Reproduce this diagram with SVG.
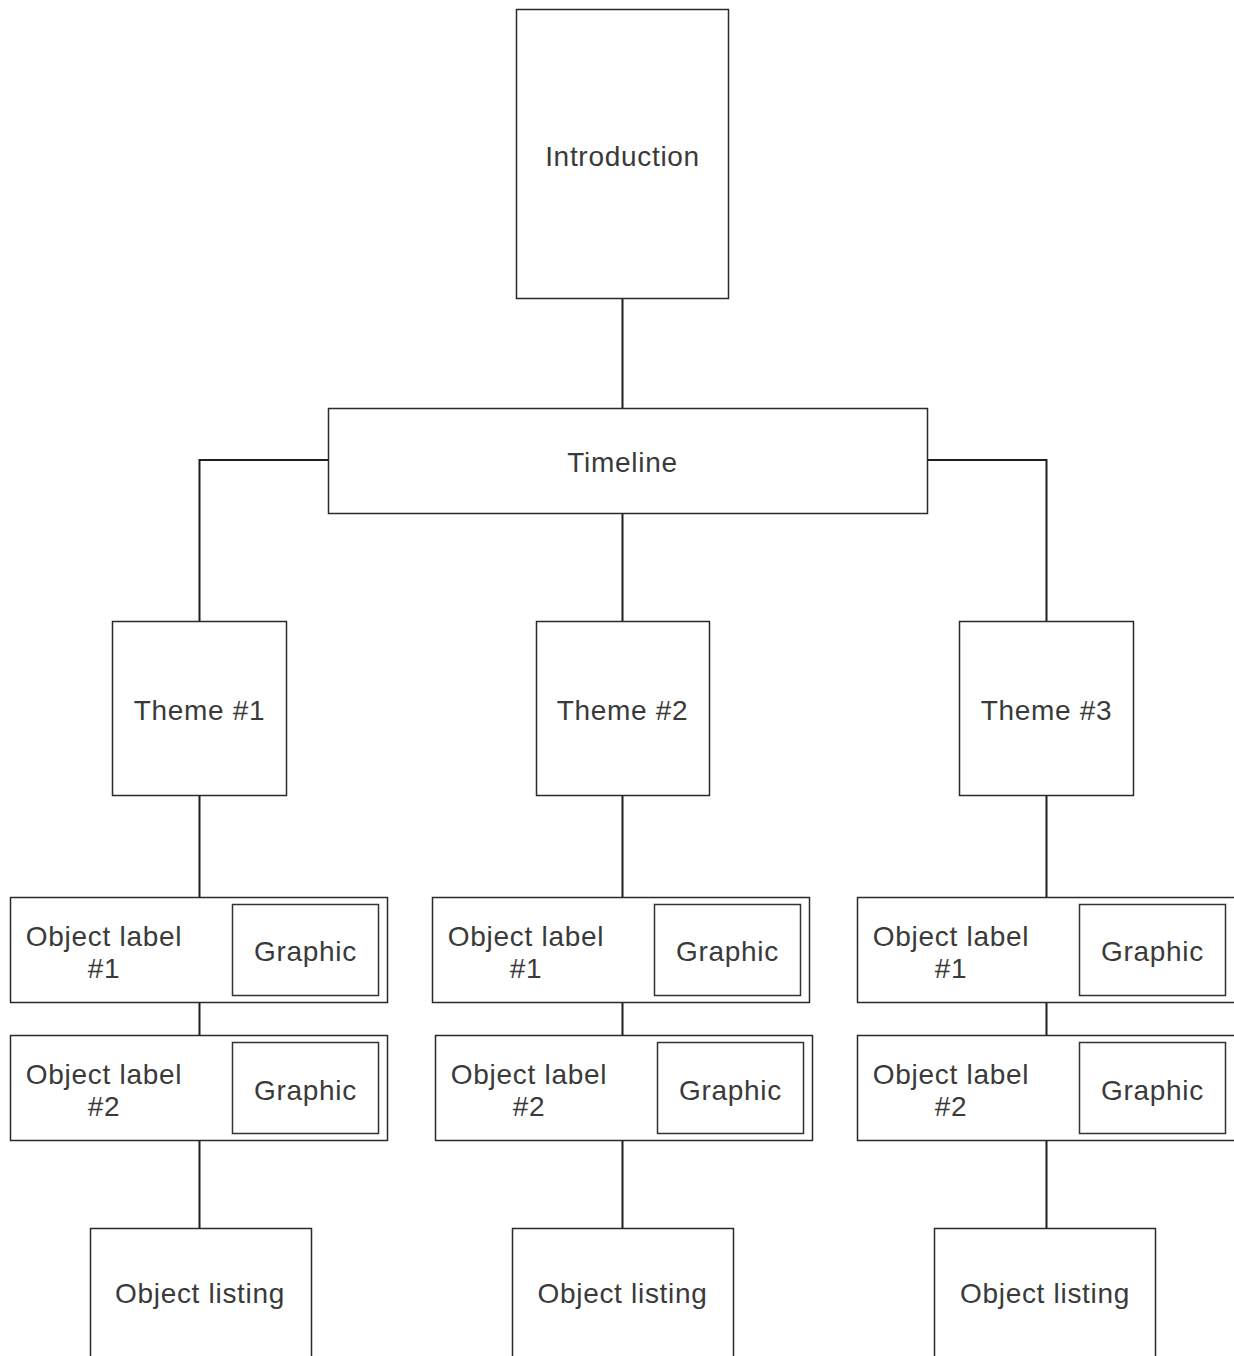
<svg xmlns="http://www.w3.org/2000/svg" width="1234" height="1356" viewBox="0 0 1234 1356">
<style>
.box{fill:#fff;stroke:#2a2a2a;stroke-width:1.5}
.inner{fill:#fff;stroke:#333;stroke-width:1.5}
.t{font-family:"Liberation Sans",Arial,sans-serif;font-size:28px;fill:#3a3a3a;text-anchor:middle;letter-spacing:0.7px}
.c{fill:none;stroke:#1e1e1e;stroke-width:2}
</style>
<rect width="1234" height="1356" fill="#fff"/>
<g id="connectors">
<line class="c" x1="622.5" y1="298" x2="622.5" y2="408"/>
<polyline class="c" points="328,460 199.5,460 199.5,621"/>
<polyline class="c" points="927,460 1046.5,460 1046.5,621"/>
<line class="c" x1="622.5" y1="513" x2="622.5" y2="621"/>
<line class="c" x1="199.5" y1="795" x2="199.5" y2="897"/>
<line class="c" x1="622.5" y1="795" x2="622.5" y2="897"/>
<line class="c" x1="1046.5" y1="795" x2="1046.5" y2="897"/>
<line class="c" x1="199.5" y1="1002" x2="199.5" y2="1035"/>
<line class="c" x1="622.5" y1="1002" x2="622.5" y2="1035"/>
<line class="c" x1="1046.5" y1="1002" x2="1046.5" y2="1035"/>
<line class="c" x1="199.5" y1="1140" x2="199.5" y2="1228"/>
<line class="c" x1="622.5" y1="1140" x2="622.5" y2="1228"/>
<line class="c" x1="1046.5" y1="1140" x2="1046.5" y2="1228"/>
</g>
<g id="introduction"><rect class="box" x="516.5" y="9.5" width="212" height="289"/><text class="t" x="622.5" y="166">Introduction</text></g>
<g id="timeline"><rect class="box" x="328.5" y="408.5" width="599" height="105"/><text class="t" x="622.5" y="472">Timeline</text></g>
<g id="theme1"><rect class="box" x="112.5" y="621.5" width="174" height="174"/><text class="t" x="199.5" y="720">Theme #1</text></g>
<g id="theme2"><rect class="box" x="536.5" y="621.5" width="173" height="174"/><text class="t" x="622.5" y="720">Theme #2</text></g>
<g id="theme3"><rect class="box" x="959.5" y="621.5" width="174" height="174"/><text class="t" x="1046.5" y="720">Theme #3</text></g>
<g id="obj1-1"><rect class="box" x="10.5" y="897.5" width="377" height="105"/><rect class="inner" x="232.5" y="904.5" width="146" height="91"/><text class="t" x="104" y="946">Object label</text><text class="t" x="104" y="978">#1</text><text class="t" x="305.5" y="961">Graphic</text></g>
<g id="obj1-2"><rect class="box" x="10.5" y="1035.5" width="377" height="105"/><rect class="inner" x="232.5" y="1042.5" width="146" height="91"/><text class="t" x="104" y="1084">Object label</text><text class="t" x="104" y="1116">#2</text><text class="t" x="305.5" y="1100">Graphic</text></g>
<g id="obj2-1"><rect class="box" x="432.5" y="897.5" width="377" height="105"/><rect class="inner" x="654.5" y="904.5" width="146" height="91"/><text class="t" x="526" y="946">Object label</text><text class="t" x="526" y="978">#1</text><text class="t" x="727.5" y="961">Graphic</text></g>
<g id="obj2-2"><rect class="box" x="435.5" y="1035.5" width="377" height="105"/><rect class="inner" x="657.5" y="1042.5" width="146" height="91"/><text class="t" x="529" y="1084">Object label</text><text class="t" x="529" y="1116">#2</text><text class="t" x="730.5" y="1100">Graphic</text></g>
<g id="obj3-1"><rect class="box" x="857.5" y="897.5" width="380" height="105"/><rect class="inner" x="1079.5" y="904.5" width="146" height="91"/><text class="t" x="951" y="946">Object label</text><text class="t" x="951" y="978">#1</text><text class="t" x="1152.5" y="961">Graphic</text></g>
<g id="obj3-2"><rect class="box" x="857.5" y="1035.5" width="380" height="105"/><rect class="inner" x="1079.5" y="1042.5" width="146" height="91"/><text class="t" x="951" y="1084">Object label</text><text class="t" x="951" y="1116">#2</text><text class="t" x="1152.5" y="1100">Graphic</text></g>
<g id="listing1"><rect class="box" x="90.5" y="1228.5" width="221" height="140"/><text class="t" x="200" y="1303">Object listing</text></g>
<g id="listing2"><rect class="box" x="512.5" y="1228.5" width="221" height="140"/><text class="t" x="622.5" y="1303">Object listing</text></g>
<g id="listing3"><rect class="box" x="934.5" y="1228.5" width="221" height="140"/><text class="t" x="1045" y="1303">Object listing</text></g>
</svg>
